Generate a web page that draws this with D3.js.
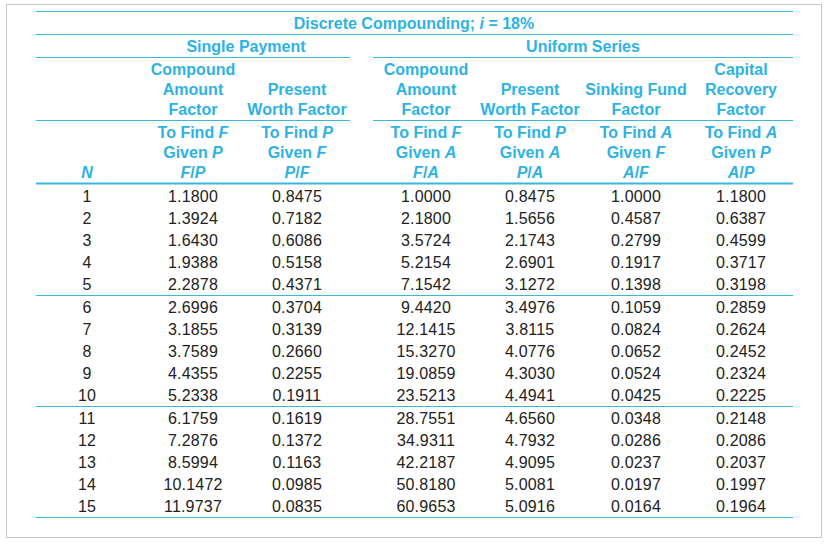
<!DOCTYPE html>
<html>
<head>
<meta charset="utf-8" />
<title>Discrete Compounding 18%</title>
<script src="https://d3js.org/d3.v7.min.js"></script>
<style>
  body { margin: 0px; background-color: white; }
  svg text { font-family: "Liberation Sans", Arial, sans-serif; font-size: 16px; }
  .head { fill: #2db3e3; font-weight: bold; }
  .cell { fill: #222; letter-spacing: 0.2px; }
</style>
</head>
<body>
<svg id="table"></svg>
<script>
// ---- data ----
var periods = d3.range(1, 16);
var fp = ["1.1800","1.3924","1.6430","1.9388","2.2878","2.6996","3.1855","3.7589","4.4355","5.2338","6.1759","7.2876","8.5994","10.1472","11.9737"];
var pf = ["0.8475","0.7182","0.6086","0.5158","0.4371","0.3704","0.3139","0.2660","0.2255","0.1911","0.1619","0.1372","0.1163","0.0985","0.0835"];
var fa = ["1.0000","2.1800","3.5724","5.2154","7.1542","9.4420","12.1415","15.3270","19.0859","23.5213","28.7551","34.9311","42.2187","50.8180","60.9653"];
var pa = ["0.8475","1.5656","2.1743","2.6901","3.1272","3.4976","3.8115","4.0776","4.3030","4.4941","4.6560","4.7932","4.9095","5.0081","5.0916"];
var af = ["1.0000","0.4587","0.2799","0.1917","0.1398","0.1059","0.0824","0.0652","0.0524","0.0425","0.0348","0.0286","0.0237","0.0197","0.0164"];
var ap = ["1.1800","0.6387","0.4599","0.3717","0.3198","0.2859","0.2624","0.2452","0.2324","0.2225","0.2148","0.2086","0.2037","0.1997","0.1964"];

var columns = ["N", "FP", "PF", "FA", "PA", "AF", "AP"];
var factorNames = [[], ["Compound","Amount","Factor"], ["", "Present","Worth Factor"],
  ["Compound","Amount","Factor"], ["", "Present","Worth Factor"], ["", "Sinking Fund","Factor"],
  ["Capital","Recovery","Factor"]];
// each find line: [plain, italic] pairs
var findLines = [
  [[], [], [["", "N"]]],
  [[["To Find ", "F"]], [["Given ", "P"]], [["", "F"], ["/", ""], ["", "P"]]],
  [[["To Find ", "P"]], [["Given ", "F"]], [["", "P"], ["/", ""], ["", "F"]]],
  [[["To Find ", "F"]], [["Given ", "A"]], [["", "F"], ["/", ""], ["", "A"]]],
  [[["To Find ", "P"]], [["Given ", "A"]], [["", "P"], ["/", ""], ["", "A"]]],
  [[["To Find ", "A"]], [["Given ", "F"]], [["", "A"], ["/", ""], ["", "F"]]],
  [[["To Find ", "A"]], [["Given ", "P"]], [["", "A"], ["/", ""], ["", "P"]]]
];

var width = 827, height = 547;
var lineColor = "#3ab8da";
var svg = d3.select("#table").attr("width", width).attr("height", height);

// outer frame
svg.append("rect").attr("x", 6.5).attr("y", 4.5).attr("width", 815).attr("height", 533)
  .attr("fill", "white").attr("stroke", "#c8c8c8");

var x = d3.scaleOrdinal().domain(columns).range([87, 193, 297, 426, 530, 636, 741]);
var left = 36, right = 793;

// rows: 22px step, small extra gap every group of five
var rowY = d3.scaleLinear().domain([0, 14]).range([196, 504]);
function yOf(i) { return rowY(i) + Math.floor(i / 5) * 1; }

function hline(x1, x2, y, w) {
  svg.append("line").attr("x1", x1).attr("x2", x2).attr("y1", y).attr("y2", y)
    .attr("stroke", lineColor).attr("stroke-width", w || 1);
}

hline(left, right, 11.5);
hline(left, right, 34.5);
hline(left, 350, 57.5);
hline(373, right, 57.5);
hline(left, 350, 120.5);
hline(373, right, 120.5);
hline(left, right, 183.5, 2);
hline(left, right, 295.5);
hline(left, right, 406.5);
hline(left, right, 517.5);

// title
var title = svg.append("text").attr("class", "head").attr("x", 414).attr("y", 23).attr("dy", "0.35em")
  .attr("text-anchor", "middle");
title.append("tspan").text("Discrete Compounding; ");
title.append("tspan").attr("font-style", "italic").text("i");
title.append("tspan").text(" = 18%");

svg.append("text").attr("class", "head").attr("x", 246).attr("y", 46).attr("dy", "0.35em")
  .attr("text-anchor", "middle").text("Single Payment");
svg.append("text").attr("class", "head").attr("x", 583).attr("y", 46).attr("dy", "0.35em")
  .attr("text-anchor", "middle").text("Uniform Series");

var headRows = [69, 89, 109];
columns.forEach(function(c, ci) {
  factorNames[ci].forEach(function(t, ri) {
    if (!t) return;
    svg.append("text").attr("class", "head").attr("x", x(c)).attr("y", headRows[ri])
      .attr("dy", "0.35em").attr("text-anchor", "middle").text(t);
  });
  var findRows = [132, 152, 172];
  findLines[ci].forEach(function(parts, ri) {
    if (!parts.length) return;
    var t = svg.append("text").attr("class", "head").attr("x", x(c)).attr("y", findRows[ri])
      .attr("dy", "0.35em").attr("text-anchor", "middle");
    parts.forEach(function(p) {
      if (p[0]) t.append("tspan").text(p[0]);
      if (p[1]) t.append("tspan").attr("font-style", "italic").text(p[1]);
    });
  });
});

// body cells
var colData = { N: periods, FP: fp, PF: pf, FA: fa, PA: pa, AF: af, AP: ap };
columns.forEach(function(c) {
  svg.append("g").selectAll("text").data(colData[c]).enter().append("text")
    .attr("class", "cell")
    .attr("x", x(c))
    .attr("y", function(d, i) { return yOf(i); })
    .attr("dy", "0.35em")
    .attr("text-anchor", "middle")
    .text(function(d) { return d; });
});
</script>
</body>
</html>
